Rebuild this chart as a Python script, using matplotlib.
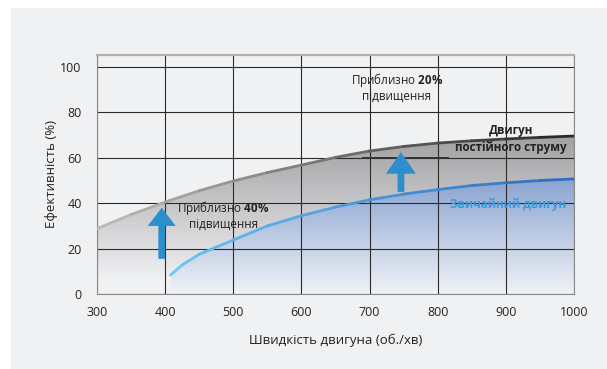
import numpy as np
import matplotlib.pyplot as plt
from matplotlib.colors import LinearSegmentedColormap
from matplotlib.collections import LineCollection
from matplotlib.patches import Polygon, Rectangle

plt.rcParams['font.family'] = ['Open Sans', 'DejaVu Sans']
plt.rcParams['mathtext.fontset'] = 'custom'
plt.rcParams['mathtext.rm'] = 'Open Sans'
plt.rcParams['mathtext.bf'] = 'Open Sans:bold'

# efficiency curves, read every 50 rpm
dc_rpm = [300, 350, 400, 450, 500, 550, 600, 650, 700, 750, 800, 850, 900, 950, 1000]
dc_eff = [28.8, 35.0, 40.5, 45.5, 49.8, 53.5, 56.8, 60.2, 63.0, 65.0, 66.5, 67.5, 68.3, 69.0, 69.6]

std_rpm = [408, 425, 450, 500, 550, 600, 650, 700, 750, 800, 850, 900, 950, 1000]
std_eff = [8.4, 12.8, 17.5, 23.8, 30.0, 34.5, 38.3, 41.5, 44.0, 46.0, 47.8, 49.0, 50.0, 50.7]

# arrows: (rpm, from %, to %)
arrow_low = (395, 15.5, 38.0)
arrow_high = (746, 45.0, 62.5)

xticks = [300, 400, 500, 600, 700, 800, 900, 1000]
yticks = [0, 20, 40, 60, 80, 100]

bg = '#f0f1f3'
arrow_col = '#2b8fce'
txt = '#222222'

fig = plt.figure(figsize=(6.07, 3.69), dpi=100, facecolor='white')
fig.patches.append(Rectangle((11 / 607, 0), 1, 1 - 8 / 369, transform=fig.transFigure,
                             facecolor=bg, edgecolor='none', zorder=-10))
ax = fig.add_axes([97 / 607, 1 - 294 / 369, (574 - 97) / 607, (294 - 55) / 369])
ax.set_facecolor(bg)
ax.set_xlim(300, 1000)
ax.set_ylim(0, 105.3)


def gradient_fill(xs, ys, ybot, c_top, c_bot, ytop):
    cmap = LinearSegmentedColormap.from_list('g', [c_bot, c_top])
    grad = np.linspace(0, 1, 256).reshape(-1, 1)
    im = ax.imshow(grad, cmap=cmap, origin='lower', aspect='auto',
                   extent=[xs[0], xs[-1], ybot, ytop], zorder=1)
    verts = list(zip(xs, ys)) + [(xs[-1], ybot), (xs[0], ybot)]
    poly = Polygon(verts, closed=True, facecolor='none', edgecolor='none',
                   transform=ax.transData)
    ax.add_patch(poly)
    im.set_clip_path(poly)


def gradient_line(xs, ys, c_left, c_right, lw):
    pts = np.column_stack([xs, ys]).reshape(-1, 1, 2)
    segs = np.concatenate([pts[:-1], pts[1:]], axis=1)
    cmap = LinearSegmentedColormap.from_list('l', [c_left, c_right])
    lc = LineCollection(segs, cmap=cmap, linewidth=lw, zorder=4, capstyle='round')
    lc.set_array(np.linspace(0, 1, len(segs)))
    ax.add_collection(lc)


gradient_fill(dc_rpm, dc_eff, 7.5, '#a19fa2', '#eeeff1', 70)
gradient_fill(std_rpm, std_eff, 0, '#89a3d0', '#f0f2f6', 51)

ax.set_xticks(xticks)
ax.set_yticks(yticks)
ax.grid(True, color='#2a2a2a', linewidth=0.8)
for gl in ax.get_xgridlines() + ax.get_ygridlines():
    gl.set_zorder(3)

gradient_line(dc_rpm, dc_eff, '#b8b8b8', '#2a2a2a', 2.0)
gradient_line(std_rpm, std_eff, '#6cc8f6', '#2f6ec2', 2.0)

ax.plot([690, 815], [60, 60], color='#333333', linewidth=1.4, zorder=4)

for x, y0, y1 in (arrow_low, arrow_high):
    hl = 8 if y1 < 50 else 9.5
    hw = 41 if y1 < 50 else 44
    ax.arrow(x, y0, 0, y1 - y0 - hl, width=10, head_width=hw, head_length=hl,
             length_includes_head=False, color=arrow_col, linewidth=0, zorder=5)

fs = 8.4
ax.text(740, 94.5, 'Приблизно $\\mathbf{20\\%}$', ha='center', va='center', fontsize=fs, color=txt, zorder=6)
ax.text(740, 87, 'підвищення', ha='center', va='center', fontsize=fs, color=txt, zorder=6)
ax.text(485, 38, 'Приблизно $\\mathbf{40\\%}$', ha='center', va='center', fontsize=fs, color=txt, zorder=6)
ax.text(485, 30.5, 'підвищення', ha='center', va='center', fontsize=fs, color=txt, zorder=6)
ax.text(907, 72, 'Двигун', ha='center', va='center', fontsize=fs, fontweight='bold', color=txt, zorder=6)
ax.text(907, 64.5, 'постійного струму', ha='center', va='center', fontsize=fs, fontweight='bold', color=txt, zorder=6)
ax.text(903, 39.6, 'Звичайний двигун', ha='center', va='center', fontsize=fs, fontweight='bold', color='#3a9ad9', zorder=6)

ax.tick_params(length=0, labelsize=9, labelcolor=txt)
ax.tick_params(axis='x', pad=9)
ax.tick_params(axis='y', pad=11)
ax.set_xlabel('Швидкість двигуна (об./хв)', fontsize=9.5, color=txt, labelpad=10)
ax.set_ylabel('Ефективність (%)', fontsize=9.5, color=txt, labelpad=2)

for side in ('left', 'right', 'bottom'):
    ax.spines[side].set_color('#8a8a8a')
    ax.spines[side].set_linewidth(0.8)
ax.spines['top'].set_color('#b0b0b0')
ax.spines['top'].set_linewidth(1.6)

fig.savefig('out.png', dpi=100, facecolor=fig.get_facecolor())
